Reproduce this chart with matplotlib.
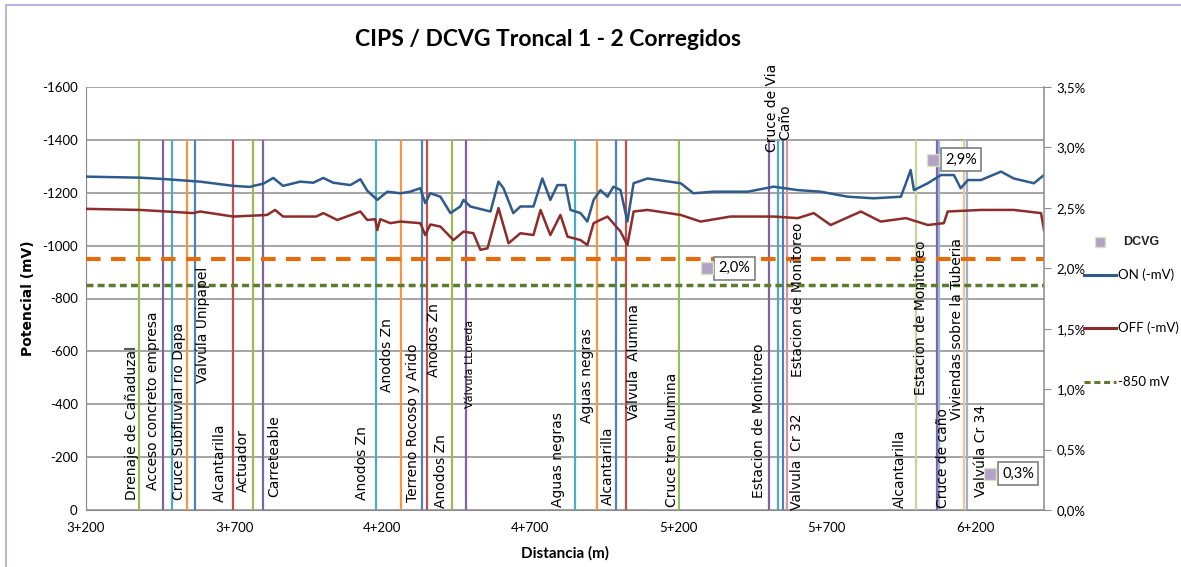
import matplotlib.pyplot as plt
from matplotlib.lines import Line2D
from matplotlib.patches import Rectangle
from matplotlib.ticker import FuncFormatter

plt.rcParams['axes.unicode_minus'] = False
NARROW = ['Lato', 'DejaVu Sans']

# Potencial ON (mV) a lo largo del recorrido
on_dist = [3200, 3382, 3474, 3585, 3697, 3754, 3764, 3798, 3832, 3865, 3923, 3967,
           4001, 4034, 4092, 4126, 4149, 4183, 4217, 4261, 4294, 4328, 4345, 4362,
           4396, 4430, 4463, 4474, 4497, 4565, 4592, 4609, 4642, 4666, 4710, 4740,
           4767, 4791, 4818, 4835, 4869, 4892, 4913, 4936, 4960, 4980, 5004, 5027,
           5048, 5095, 5207, 5250, 5318, 5433, 5521, 5602, 5679, 5771, 5858, 5950,
           5967, 5983, 5994, 6041, 6085, 6129, 6152, 6176, 6220, 6288, 6331, 6399, 6433]
on_mv = [-1261, -1257, -1251, -1242, -1226, -1222, -1226, -1234, -1256, -1226, -1242, -1238,
         -1256, -1238, -1229, -1251, -1208, -1173, -1204, -1198, -1204, -1217, -1161, -1198,
         -1185, -1123, -1148, -1173, -1148, -1129, -1242, -1217, -1123, -1148, -1148, -1254,
         -1173, -1229, -1229, -1135, -1123, -1091, -1173, -1210, -1185, -1223, -1210, -1091,
         -1236, -1254, -1236, -1198, -1204, -1204, -1223, -1210, -1204, -1185, -1179, -1185,
         -1236, -1286, -1210, -1236, -1267, -1267, -1217, -1248, -1248, -1280, -1254, -1236, -1267]

# Potencial OFF (mV)
off_dist = [3200, 3382, 3474, 3561, 3585, 3697, 3811, 3838, 3865, 3977, 4001, 4048,
            4126, 4149, 4176, 4183, 4193, 4227, 4261, 4328, 4345, 4362, 4396, 4440,
            4474, 4507, 4531, 4555, 4592, 4626, 4666, 4710, 4734, 4767, 4801, 4825,
            4869, 4892, 4913, 4960, 5004, 5027, 5048, 5095, 5207, 5274, 5375, 5521,
            5602, 5656, 5713, 5815, 5882, 5967, 6041, 6095, 6108, 6220, 6331, 6423, 6433]
off_mv = [-1139, -1135, -1129, -1123, -1129, -1110, -1116, -1135, -1110, -1110, -1123, -1097,
          -1129, -1097, -1100, -1059, -1100, -1085, -1091, -1085, -1040, -1080, -1072, -1021,
          -1053, -1047, -984, -990, -1142, -1009, -1047, -1040, -1135, -1040, -1116, -1034,
          -1021, -1002, -1085, -1110, -1053, -1002, -1129, -1135, -1116, -1091, -1110, -1110,
          -1104, -1123, -1078, -1129, -1091, -1104, -1078, -1085, -1129, -1135, -1135, -1123, -1059]

criterio_850 = -850
criterio_950 = -950

# DCVG (%)
dcvg_dist = [5295, 6058, 6251]
dcvg_pct = [0.020, 0.029, 0.003]

# Referencias de campo (lineas verticales)
ref_dist = [3200, 3379, 3460, 3490, 3541, 3568, 3697, 3764, 3798, 4180, 4264, 4335,
            4352, 4436, 4484, 4849, 4926, 4990, 5021, 5200, 5504, 5534, 5551, 5565,
            6000, 6071, 6078, 6164, 6173]
ref_colors = ['#D99694', '#9BBB59', '#8064A2', '#4BACC6', '#F79646', '#4F81BD',
              '#C0504D', '#9BBB59', '#8064A2', '#4BACC6', '#F79646', '#4F81BD',
              '#C0504D', '#9BBB59', '#8064A2', '#4BACC6', '#F79646', '#4F81BD',
              '#C0504D', '#9BBB59', '#8064A2', '#4BACC6', '#4F81BD', '#D99694',
              '#C3D69B', '#8064A2', '#95B3D7', '#FAC090', '#95B3D7']

ref_labels = ['Drenaje de Cañaduzal', 'Acceso concreto empresa', 'Cruce Subfluvial rio Dapa',
              'Valvúla Unipapel', 'Alcantarilla', 'Actuador', 'Carreteable', 'Anodos Zn',
              'Anodos Zn', 'Terreno Rocoso y Arido', 'Anodos Zn', 'Anodos Zn',
              'Válvula LLoreda', 'Aguas negras', 'Aguas negras', 'Alcantarilla',
              'Válvula  Alumina', 'Cruce tren Alumina', 'Estacion de Monitoreo',
              'Cruce de Via', 'Caño', 'Valvula  Cr 32', 'Estacion de Monitoreo',
              'Alcantarilla', 'Estacion de Monitoreo', 'Cruce de caño',
              'Viviendas sobre la Tuberia', 'Valvúla Cr 34']
label_x = [3355, 3426, 3514, 3595, 3653, 3730, 3835, 4132, 4217, 4305, 4376, 4399,
           4497, 4794, 4892, 4960, 5051, 5176, 5470, 5514, 5561, 5598, 5602, 5946,
           6017, 6092, 6139, 6220]
label_y = [-38, -76, -38, -480, -30, -68, -49, -38, -446, -30, -503, -8,
           -386, -11, -329, -19, -340, -11, -45, -1354, -1400, 0, -503, -8,
           -435, -8, -340, -49]

x_ticks = [3200, 3700, 4200, 4700, 5200, 5700, 6200]
x_ticklabels = ['3+200', '3+700', '4+200', '4+700', '5+200', '5+700', '6+200']

fig = plt.figure(figsize=(11.81, 5.67), dpi=100)
ax = fig.add_axes([86 / 1181, 1 - 510 / 567, (1044 - 86) / 1181, (510 - 87) / 567])

ax.set_xlim(3200, 6433)
ax.set_ylim(0, -1600)
ax.set_yticks(range(0, -1601, -200))
ax.yaxis.grid(True, color='#8C8C8C', lw=1.1)
ax.set_axisbelow(True)
for s in ['top', 'right']:
    ax.spines[s].set_visible(False)
ax.spines['left'].set_color('#8C8C8C')
ax.spines['bottom'].set_color('#8C8C8C')
ax.tick_params(length=0, labelsize=9.5, pad=6)
ax.tick_params(axis='x', pad=9)
ax.set_xticks(x_ticks)
ax.set_xticklabels(x_ticklabels)
for t in ax.get_xticklabels() + ax.get_yticklabels():
    t.set_fontfamily(NARROW)

# lineas de referencia
ax.vlines(ref_dist, 0, -1400, colors=ref_colors, lw=1.6, zorder=2)

for txt, x, y in zip(ref_labels, label_x, label_y):
    fs = 8 if txt == 'Válvula LLoreda' else 10
    ax.text(x, y, txt, rotation=90, ha='center', va='bottom', fontsize=fs,
            color='black', zorder=5)

ax.axhline(criterio_950, color='#E46C0A', lw=3, ls=(0, (3.5, 2.5)), zorder=3)
ax.axhline(criterio_850, color='#5E7A2E', lw=2.5, ls=(0, (2, 1.2)), zorder=3)

ax.plot(on_dist, on_mv, color='#2E5A8C', lw=1.8, zorder=4)
ax.plot(off_dist, off_mv, color='#8C2D2B', lw=1.8, zorder=4)

ax.set_ylabel('Potencial (mV)', fontsize=10, fontweight='bold', labelpad=5)
ax.set_xlabel('Distancia (m)', fontsize=11, fontweight='bold', family=NARROW, labelpad=8)

# eje secundario DCVG
ax2 = ax.twinx()
ax2.set_ylim(0, 0.035)
ax2.set_yticks([i * 0.005 for i in range(8)])
ax2.yaxis.set_major_formatter(FuncFormatter(lambda v, p: f'{v * 100:.1f}%'.replace('.', ',')))
for s in ['top', 'left', 'bottom']:
    ax2.spines[s].set_visible(False)
ax2.spines['right'].set_color('#8C8C8C')
ax2.spines['right'].set_linewidth(1.1)
ax2.tick_params(axis='y', length=5, color='#8C8C8C', direction='out', labelsize=9.5, pad=4)
for t in ax2.get_yticklabels():
    t.set_fontfamily(NARROW)

ax2.plot(dcvg_dist, dcvg_pct, ls='none', marker='s', ms=9, mfc='#B3A2C7',
         mec='#D7E4BD', mew=1, zorder=6)
for x, v in zip(dcvg_dist, dcvg_pct):
    ax2.annotate(f'{v * 100:.1f}%'.replace('.', ','), (x, v), xytext=(12, 0),
                 textcoords='offset pixels', ha='left', va='center', fontsize=10.5,
                 family=NARROW,
                 bbox=dict(boxstyle='square,pad=0.3', fc='white', ec='#7F7F7F', lw=1.2))

fig.suptitle('CIPS / DCVG Troncal 1 - 2 Corregidos', x=548 / 1181, y=1 - 40 / 567,
             va='center', fontsize=16.5, fontweight='bold', family=NARROW)

# leyenda
W, H = 1181, 567
fig.add_artist(Line2D([1100 / W], [1 - 242 / H], marker='s', ms=7, mfc='#B3A2C7',
                      mec='#D7E4BD', ls='none'))
fig.text(1123 / W, 1 - 242 / H, 'DCVG', fontsize=9, fontweight='bold',
         family=['Liberation Sans', 'DejaVu Sans'], va='center', color='#222222')
leg_items = [(275, '#2E5A8C', '-', 'ON (-mV)'), (328, '#8C2D2B', '-', 'OFF (-mV)'),
             (382, '#5E7A2E', (0, (2, 1.2)), '-850 mV')]
for yy, c, ls, lab in leg_items:
    fig.add_artist(Line2D([1084 / W, 1116 / W], [1 - yy / H] * 2, color=c, lw=2.2, ls=ls))
    fig.text(1118 / W, 1 - yy / H, lab, fontsize=9.5, family=NARROW, va='center')

# borde del area del grafico
fig.add_artist(Rectangle((6 / W, -0.05), 1.1, 1 - 5 / H + 0.05, fill=False,
                         ec='#B3A2D7', lw=1.2, transform=fig.transFigure))

fig.savefig('out.png', dpi=100)
